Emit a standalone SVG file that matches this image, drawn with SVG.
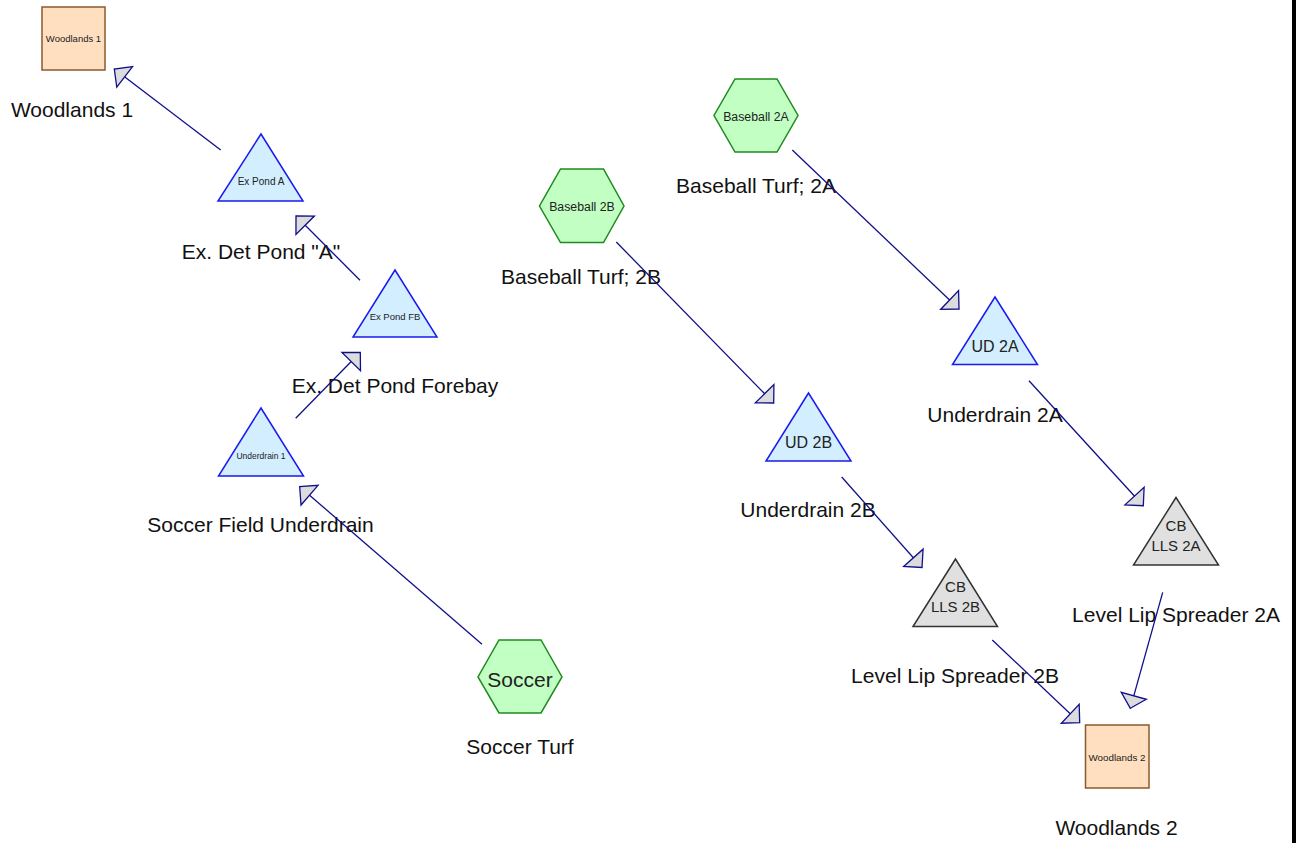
<svg xmlns="http://www.w3.org/2000/svg" width="1296" height="843" viewBox="0 0 1296 843">
  <defs>
    <style>
      text { font-family: "Liberation Sans", Arial, sans-serif; text-anchor: middle; }
      .cap { font-size: 21px; fill: #111; }
      .in { fill: #222; }
      .box { fill: #ffdfbf; stroke: #8b5a2b; stroke-width: 1.5; }
      .hex { fill: #c2ffc2; stroke: #1f8a1f; stroke-width: 1.5; }
      .tri { fill: #d2eeff; stroke: #1a1aee; stroke-width: 1.5; }
      .cb { fill: #e0e0e0; stroke: #333; stroke-width: 1.5; }
      .link { stroke: #10108a; stroke-width: 1.3; fill: none; marker-end: url(#head); }
    </style>
    <marker id="head" markerUnits="userSpaceOnUse" viewBox="-15 -15 17 30" refX="0" refY="0" markerWidth="17" markerHeight="30" orient="auto" overflow="visible">
      <path d="M0,0 L-13,-13 L-13,13 Z" fill="#dcdcdc" stroke="#10108a" stroke-width="1.3" stroke-linejoin="miter"/>
    </marker>
  </defs>
  <rect width="1296" height="843" fill="#fff"/>
  <rect x="1292" y="0" width="4" height="843" fill="#000"/>

  <g id="woodlands1">
    <rect class="box" x="42" y="7" width="63" height="63"/>
    <text class="in" x="73.5" y="42" font-size="9.5">Woodlands 1</text>
    <text class="cap" x="72" y="117">Woodlands 1</text>
  </g>

  <g id="expond-a">
    <polygon class="tri" points="261,134 218,201 303,201"/>
    <text class="in" x="261" y="185" font-size="10">Ex Pond A</text>
    <text class="cap" x="261" y="259">Ex. Det Pond "A"</text>
  </g>

  <g id="expond-fb">
    <polygon class="tri" points="395,270 353,337 437,337"/>
    <text class="in" x="395" y="320" font-size="9.5">Ex Pond FB</text>
    <text class="cap" x="395" y="393">Ex. Det Pond Forebay</text>
  </g>

  <g id="underdrain1">
    <polygon class="tri" points="261,408 218.5,476 303.5,476"/>
    <text class="in" x="261" y="459" font-size="8.5">Underdrain 1</text>
    <text class="cap" x="260.5" y="532">Soccer Field Underdrain</text>
  </g>

  <g id="soccer">
    <polygon class="hex" points="499,640 541,640 562,677 541,713 499,713 478,677"/>
    <text class="in" x="520" y="686.5" font-size="21" fill="#111">Soccer</text>
    <text class="cap" x="520" y="754">Soccer Turf</text>
  </g>

  <g id="baseball2a">
    <polygon class="hex" points="735,79 777,79 798,115.5 777,152 735,152 714,115.5"/>
    <text class="in" x="756" y="121" font-size="12.3">Baseball 2A</text>
    <text class="cap" x="756" y="193">Baseball Turf; 2A</text>
  </g>

  <g id="baseball2b">
    <polygon class="hex" points="560.5,169 603.5,169 624,206 603.5,242.5 560.5,242.5 539.5,206"/>
    <text class="in" x="582" y="211" font-size="12.3">Baseball 2B</text>
    <text class="cap" x="581" y="284">Baseball Turf; 2B</text>
  </g>

  <g id="ud2a">
    <polygon class="tri" points="995,297 952.5,364.5 1037.5,364.5"/>
    <text class="in" x="995" y="351.5" font-size="16">UD 2A</text>
    <text class="cap" x="995" y="422">Underdrain 2A</text>
  </g>

  <g id="ud2b">
    <polygon class="tri" points="808.5,393 766,461 851,461"/>
    <text class="in" x="808.5" y="448" font-size="16">UD 2B</text>
    <text class="cap" x="808" y="517">Underdrain 2B</text>
  </g>

  <g id="cb-lls2a">
    <polygon class="cb" points="1176,497.5 1133.5,565 1218.5,565"/>
    <text class="in" x="1176" y="530.5" font-size="15">CB</text>
    <text class="in" x="1176" y="551" font-size="15">LLS 2A</text>
    <text class="cap" x="1176" y="622">Level Lip Spreader 2A</text>
  </g>

  <g id="cb-lls2b">
    <polygon class="cb" points="955.5,559 913,626.5 997.5,626.5"/>
    <text class="in" x="955.5" y="592" font-size="15">CB</text>
    <text class="in" x="955.5" y="612" font-size="15">LLS 2B</text>
    <text class="cap" x="955" y="683">Level Lip Spreader 2B</text>
  </g>

  <g id="woodlands2">
    <rect class="box" x="1085.5" y="725" width="63.5" height="63"/>
    <text class="in" x="1117" y="761" font-size="9.8">Woodlands 2</text>
    <text class="cap" x="1116.5" y="835">Woodlands 2</text>
  </g>

  <g id="connectors">
    <line class="link" x1="220.7" y1="150" x2="114.3" y2="69"/>
    <line class="link" x1="360" y1="280.3" x2="296" y2="216"/>
    <line class="link" x1="295.7" y1="418.3" x2="360.3" y2="352.3"/>
    <line class="link" x1="482" y1="644.3" x2="299.7" y2="486.7"/>
    <line class="link" x1="792.3" y1="150" x2="959" y2="309"/>
    <line class="link" x1="616.3" y1="242" x2="773.7" y2="403"/>
    <line class="link" x1="1029" y1="380.7" x2="1143.3" y2="505.7"/>
    <line class="link" x1="841.7" y1="477" x2="922" y2="567.5"/>
    <line class="link" x1="992.3" y1="640" x2="1079.7" y2="722.7"/>
    <line class="link" x1="1162.7" y1="592.3" x2="1130.3" y2="708.3"/>
  </g>
</svg>
